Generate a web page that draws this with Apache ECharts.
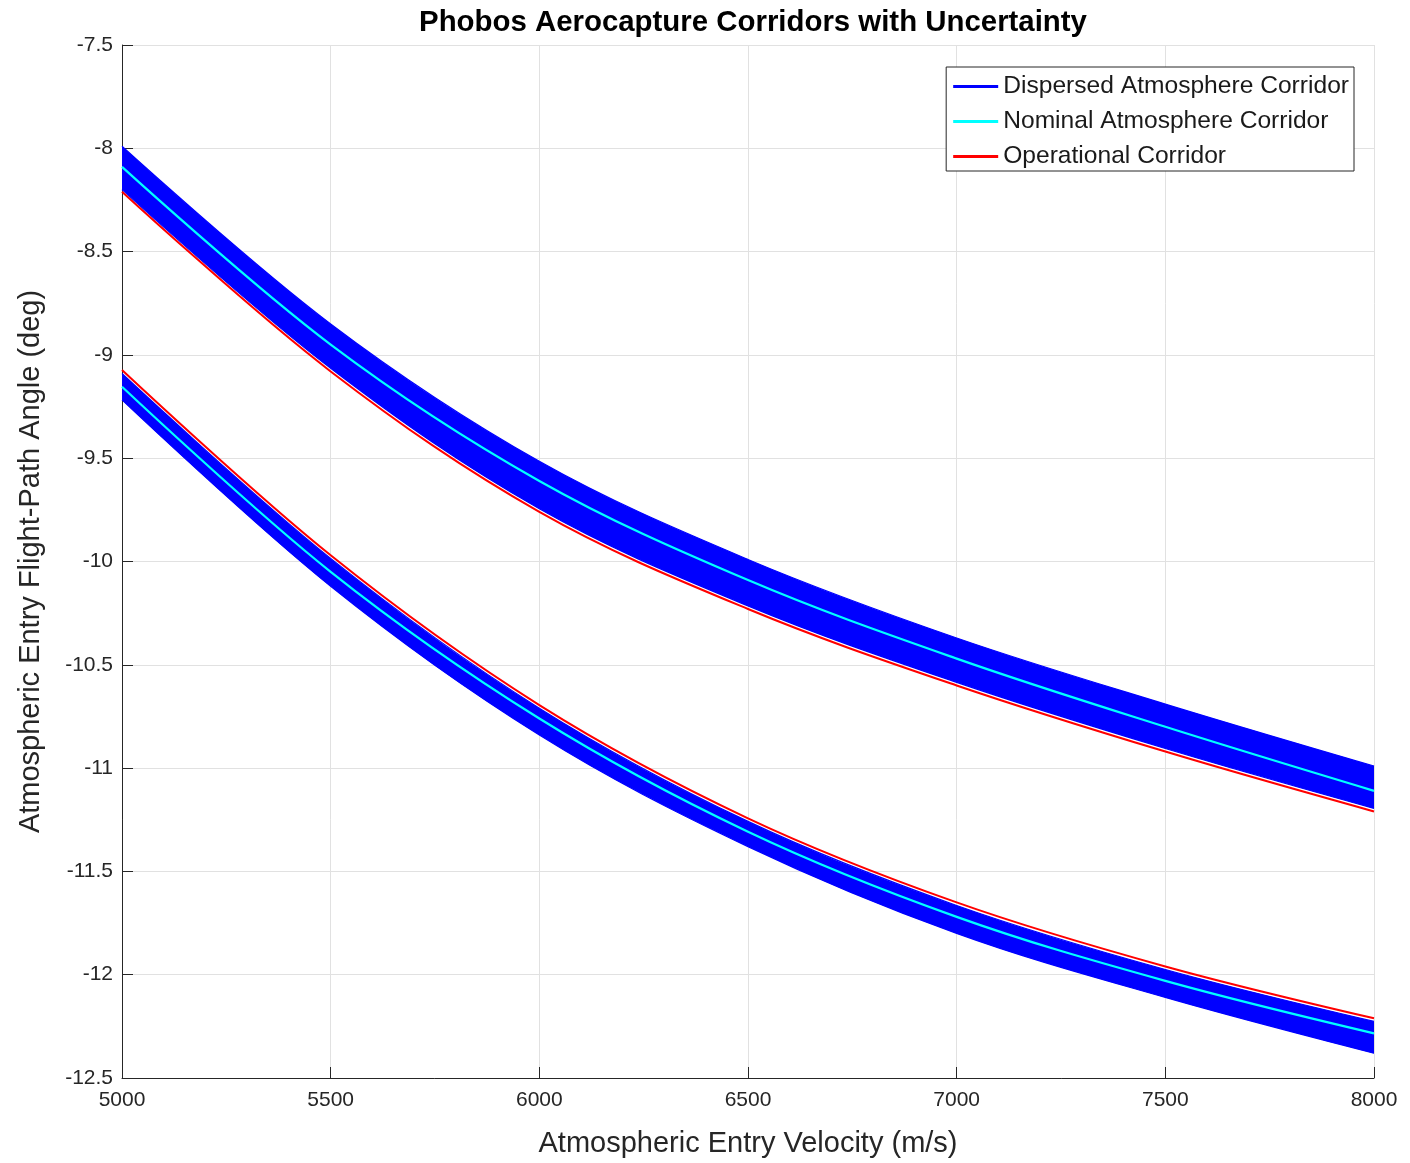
<!DOCTYPE html>
<html>
<head>
<meta charset="utf-8">
<script src="https://cdn.jsdelivr.net/npm/echarts@6/dist/echarts.min.js"></script>
<style>
  html, body { margin: 0; padding: 0; background: #fff; }
  #chart { width: 1410px; height: 1163px; }
</style>
</head>
<body>
<div id="chart"></div>
<script>
// Entry velocity (m/s) — also the x tick labels
const velocity = ['5000', '5500', '6000', '6500', '7000', '7500', '8000'];
// Upper (shallow) corridor boundary
const upperDispersedTop    = [-7.99, -8.85, -9.515, -9.99, -10.37, -10.69, -10.99];
const upperDispersedBottom = [-8.20, -9.065, -9.745, -10.215, -10.585, -10.905, -11.195];
const upperNominal         = [-8.09, -8.95, -9.61, -10.09, -10.47, -10.80, -11.11];
const upperOperational     = [-8.21, -9.08, -9.76, -10.23, -10.60, -10.92, -11.21];
// Lower (steep) corridor boundary
const lowerDispersedTop    = [-9.09, -9.985, -10.71, -11.258, -11.665, -11.975, -12.226];
const lowerDispersedBottom = [-9.218, -10.12, -10.84, -11.38, -11.80, -12.11, -12.38];
const lowerNominal         = [-9.154, -10.05, -10.76, -11.308, -11.72, -12.03, -12.284];
const lowerOperational     = [-9.073, -9.97, -10.695, -11.243, -11.65, -11.96, -12.211];
// y axis range / tick step
const yMin = -12.5, yMax = -7.5, yStep = 0.5;

const BLUE = '#0000ff', CYAN = '#00ffff', RED = '#ff0000';
const DISP = 'Dispersed Atmosphere Corridor', NOM = 'Nominal Atmosphere Corridor', OPS = 'Operational Corridor';
const FONT = '"Liberation Sans", Arial, Helvetica, sans-serif';
const SMOOTH = 0.35;

function span(top, bottom) { return top.map((t, i) => +(t - bottom[i]).toFixed(4)); }

function dispBase(stack, ys) {
  return { name: DISP, type: 'line', stack: stack, stackStrategy: 'all', data: ys,
    smooth: SMOOTH, symbol: 'none', color: BLUE, lineStyle: { color: BLUE, width: 1.2 }, z: 2, silent: true };
}
function dispFill(stack, top, bottom) {
  return { name: DISP, type: 'line', stack: stack, stackStrategy: 'all', data: span(top, bottom),
    smooth: SMOOTH, symbol: 'none', color: BLUE, lineStyle: { color: BLUE, width: 1.2 },
    areaStyle: { color: BLUE, opacity: 1 }, z: 2, silent: true };
}
function plain(name, ys, color, width, z) {
  return { name: name, type: 'line', data: ys, smooth: SMOOTH, symbol: 'none', color: color,
    lineStyle: { color: color, width: width }, z: z, silent: true };
}

const chart = echarts.init(document.getElementById('chart'), null, { renderer: 'canvas' });
chart.setOption({
  animation: false,
  backgroundColor: '#ffffff',
  title: {
    text: 'Phobos Aerocapture Corridors with Uncertainty',
    left: 748, top: 3, textAlign: 'center',
    textStyle: { fontFamily: FONT, fontWeight: 'bold', fontSize: 29.4, color: '#000' }
  },
  grid: { left: 122, right: 36, top: 45, bottom: 85, containLabel: false, show: false },
  legend: {
    data: [DISP, NOM, OPS],
    orient: 'vertical', right: 56, top: 67,
    icon: 'rect', itemWidth: 45, itemHeight: 3, itemGap: 10,
    padding: [7, 5, 2, 7],
    backgroundColor: '#fff', borderColor: '#262626', borderWidth: 1, borderRadius: 0,
    textStyle: { fontFamily: FONT, fontSize: 24.6, lineHeight: 24, color: '#1a1a1a' }
  },
  xAxis: {
    type: 'category', data: velocity, boundaryGap: false,
    name: 'Atmospheric Entry Velocity (m/s)', nameLocation: 'middle', nameGap: 51,
    nameTextStyle: { fontFamily: FONT, fontSize: 29, color: '#262626' },
    axisLine: { show: true, onZero: false, lineStyle: { color: '#262626', width: 1 } },
    axisTick: { show: true, inside: true, length: 11, alignWithLabel: true, lineStyle: { color: '#262626' } },
    axisLabel: { fontFamily: FONT, fontSize: 21, color: '#262626', margin: 12, interval: 0 },
    splitLine: { show: true, interval: 0, lineStyle: { color: '#e1e1e1', width: 1 } }
  },
  yAxis: {
    type: 'value', min: yMin, max: yMax, interval: yStep,
    name: 'Atmospheric Entry Flight-Path Angle (deg)', nameLocation: 'middle', nameGap: 77,
    nameTextStyle: { fontFamily: FONT, fontSize: 29, color: '#262626' },
    axisLine: { show: true, onZero: false, lineStyle: { color: '#262626', width: 1 } },
    axisTick: { show: true, inside: true, length: 11, lineStyle: { color: '#262626' } },
    axisLabel: { fontFamily: FONT, fontSize: 21, color: '#262626', margin: 9, formatter: v => String(v) },
    splitLine: { show: true, lineStyle: { color: '#e1e1e1', width: 1 } }
  },
  series: [
    dispBase('upper', upperDispersedBottom),
    dispFill('upper', upperDispersedTop, upperDispersedBottom),
    dispBase('lower', lowerDispersedBottom),
    dispFill('lower', lowerDispersedTop, lowerDispersedBottom),
    plain(NOM, upperNominal, CYAN, 2.2, 5),
    plain(NOM, lowerNominal, CYAN, 2.2, 5),
    plain(OPS, upperOperational, RED, 2, 6),
    plain(OPS, lowerOperational, RED, 2, 6)
  ]
});
</script>
</body>
</html>
